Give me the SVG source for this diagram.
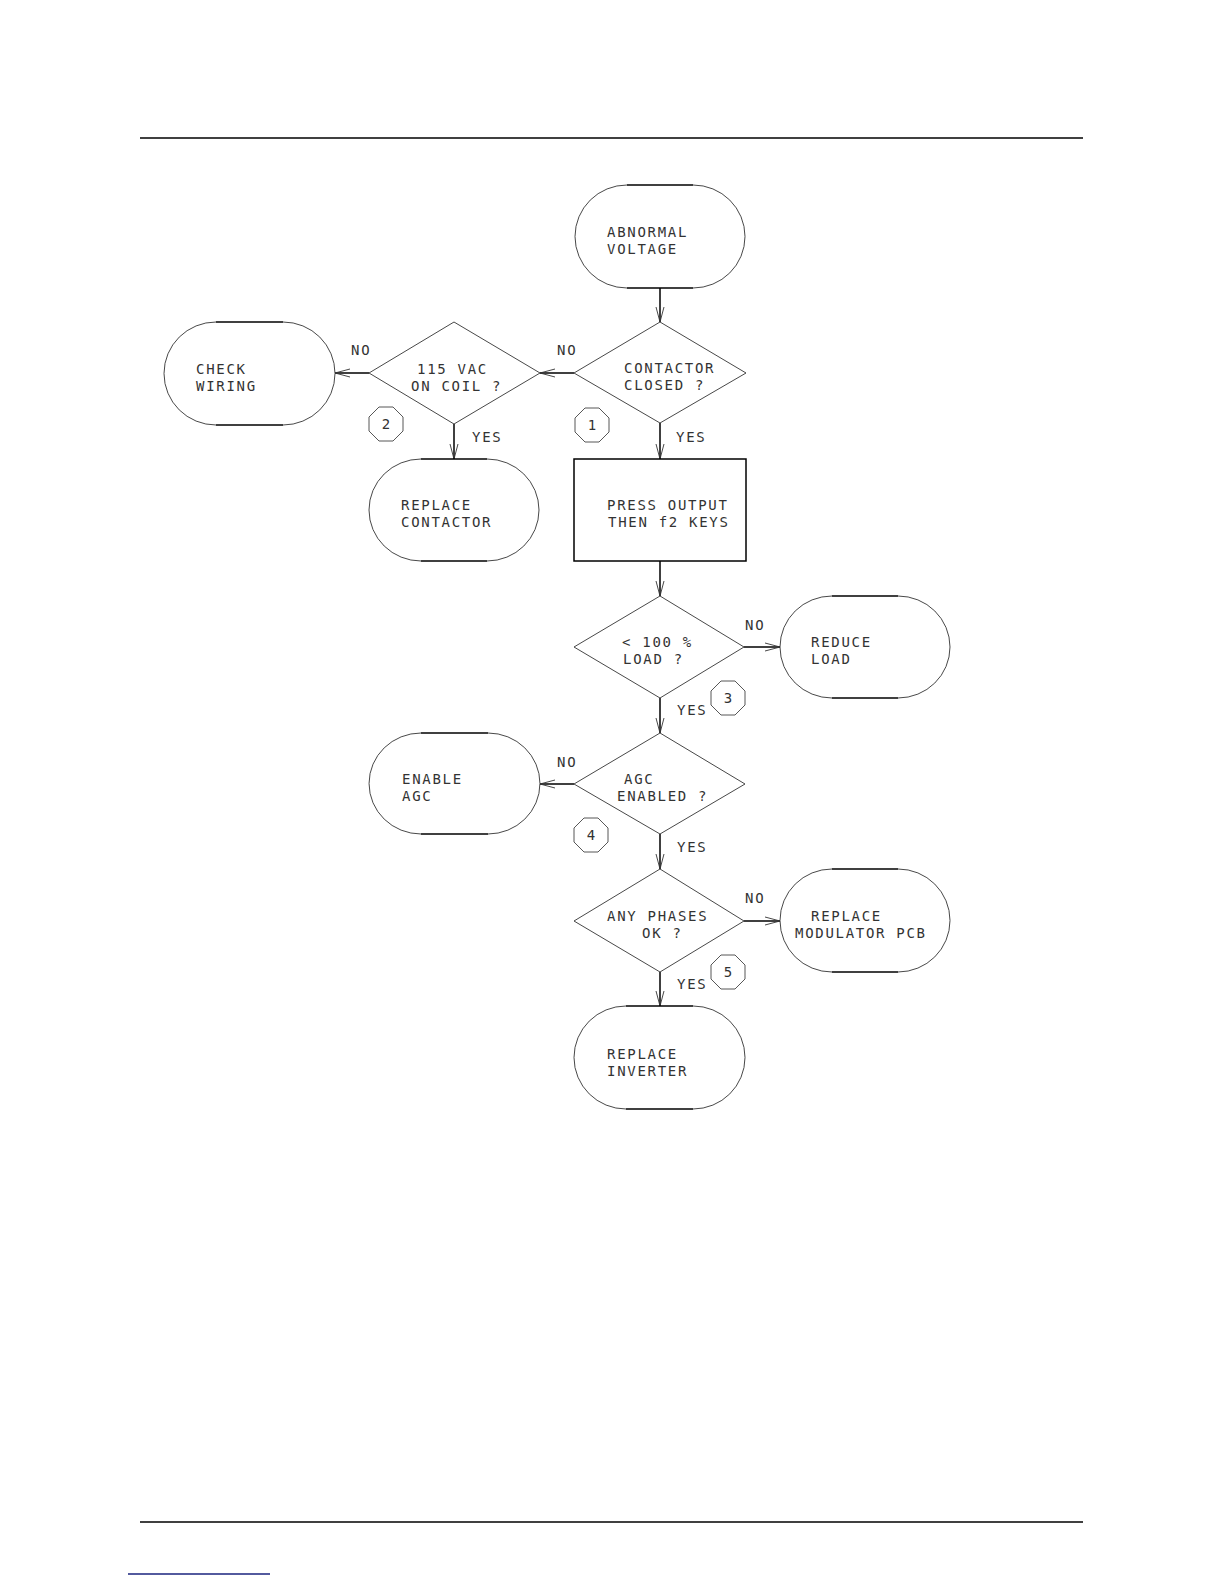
<svg xmlns="http://www.w3.org/2000/svg" width="1224" height="1584" viewBox="0 0 1224 1584">
<style>
.t{font-family:"DejaVu Sans Mono","Liberation Mono",monospace;font-size:14px;letter-spacing:1.7px;fill:#333}
.term .arc{fill:none;stroke:#333;stroke-width:0.9}
.term .flat{stroke:#000;stroke-width:1.6}
.dia{fill:none;stroke:#333;stroke-width:0.9}
.box{fill:none;stroke:#000;stroke-width:1.5}
.con{stroke:#000;stroke-width:1.5;fill:none;marker-end:url(#ah)}
.num{fill:none;stroke:#444;stroke-width:0.9}
.page{stroke:#000;stroke-width:1.5}
</style>
<defs>
<marker id="ah" markerUnits="userSpaceOnUse" viewBox="-16 -6 18 12" refX="0" refY="0" markerWidth="18" markerHeight="12" orient="auto">
<path d="M-15,-4 L0,0 L-15,4" fill="none" stroke="#333" stroke-width="0.9"/>
</marker>
<polygon id="oct" points="7,-17 17,-7 17,7 7,17 -7,17 -17,7 -17,-7 -7,-17" />
</defs>
<rect width="1224" height="1584" fill="#fff"/>
<line class="page" x1="140" y1="138" x2="1083" y2="138"/>
<line class="page" x1="140" y1="1522" x2="1083" y2="1522"/>
<line x1="128" y1="1574" x2="270" y2="1574" stroke="#1a237e" stroke-width="1.5"/>

<g id="connectors">
<line class="con" x1="660" y1="288" x2="660" y2="322"/>
<line class="con" x1="574" y1="373" x2="540" y2="373"/>
<line class="con" x1="369" y1="373" x2="335" y2="373"/>
<line class="con" x1="454" y1="424" x2="454" y2="459"/>
<line class="con" x1="660" y1="423" x2="660" y2="459"/>
<line class="con" x1="660" y1="561" x2="660" y2="596"/>
<line class="con" x1="744" y1="647" x2="780" y2="647"/>
<line class="con" x1="660" y1="698" x2="660" y2="733"/>
<line class="con" x1="574" y1="784" x2="540" y2="784"/>
<line class="con" x1="660" y1="834" x2="660" y2="869"/>
<line class="con" x1="744" y1="921" x2="780" y2="921"/>
<line class="con" x1="660" y1="972" x2="660" y2="1006"/>
<text class="t" x="557" y="355">NO</text>
<text class="t" x="351" y="355">NO</text>
<text class="t" x="472" y="442">YES</text>
<text class="t" x="676" y="442">YES</text>
<text class="t" x="745" y="630">NO</text>
<text class="t" x="677" y="715">YES</text>
<text class="t" x="557" y="767">NO</text>
<text class="t" x="677" y="852">YES</text>
<text class="t" x="745" y="903">NO</text>
<text class="t" x="677" y="989">YES</text>
</g>

<g id="n-abnormal" class="term">
<path class="arc" d="M627,185 A52,51.5 0 0 0 627,288 M693,185 A52,51.5 0 0 1 693,288"/>
<line class="flat" x1="627" y1="185" x2="693" y2="185"/><line class="flat" x1="627" y1="288" x2="693" y2="288"/>
<text class="t" x="607" y="237">ABNORMAL</text><text class="t" x="607" y="254">VOLTAGE</text>
</g>

<g id="n-contactor">
<polygon class="dia" points="660,322 746,373 660,423 574,373"/>
<text class="t" x="624" y="373">CONTACTOR</text><text class="t" x="624" y="390">CLOSED ?</text>
<g transform="translate(592,425)"><use href="#oct" class="num"/><text class="t" x="0" y="5" text-anchor="middle" style="letter-spacing:0">1</text></g>
</g>

<g id="n-115vac">
<polygon class="dia" points="454,322 540,373 454,424 369,373"/>
<text class="t" x="417" y="374">115 VAC</text><text class="t" x="411" y="391">ON COIL ?</text>
<g transform="translate(386,424)"><use href="#oct" class="num"/><text class="t" x="0" y="5" text-anchor="middle" style="letter-spacing:0">2</text></g>
</g>

<g id="n-checkwiring" class="term">
<path class="arc" d="M216,322 A52,51.5 0 0 0 216,425 M283,322 A52,51.5 0 0 1 283,425"/>
<line class="flat" x1="216" y1="322" x2="283" y2="322"/><line class="flat" x1="216" y1="425" x2="283" y2="425"/>
<text class="t" x="196" y="374">CHECK</text><text class="t" x="196" y="391">WIRING</text>
</g>

<g id="n-replacecontactor" class="term">
<path class="arc" d="M421,459 A52,51 0 0 0 421,561 M487,459 A52,51 0 0 1 487,561"/>
<line class="flat" x1="421" y1="459" x2="487" y2="459"/><line class="flat" x1="421" y1="561" x2="487" y2="561"/>
<text class="t" x="401" y="510">REPLACE</text><text class="t" x="401" y="527">CONTACTOR</text>
</g>

<g id="n-press">
<rect class="box" x="574" y="459" width="172" height="102"/>
<text class="t" x="607" y="510">PRESS OUTPUT</text><text class="t" x="608" y="527">THEN f2 KEYS</text>
</g>

<g id="n-load">
<polygon class="dia" points="660,596 744,647 660,698 574,647"/>
<text class="t" x="622" y="647">&lt; 100 %</text><text class="t" x="623" y="664">LOAD ?</text>
<g transform="translate(728,698)"><use href="#oct" class="num"/><text class="t" x="0" y="5" text-anchor="middle" style="letter-spacing:0">3</text></g>
</g>

<g id="n-reduceload" class="term">
<path class="arc" d="M832,596 A52,51 0 0 0 832,698 M898,596 A52,51 0 0 1 898,698"/>
<line class="flat" x1="832" y1="596" x2="898" y2="596"/><line class="flat" x1="832" y1="698" x2="898" y2="698"/>
<text class="t" x="811" y="647">REDUCE</text><text class="t" x="811" y="664">LOAD</text>
</g>

<g id="n-agc">
<polygon class="dia" points="660,733 745,784 660,834 574,784"/>
<text class="t" x="624" y="784">AGC</text><text class="t" x="617" y="801">ENABLED ?</text>
<g transform="translate(591,835)"><use href="#oct" class="num"/><text class="t" x="0" y="5" text-anchor="middle" style="letter-spacing:0">4</text></g>
</g>

<g id="n-enableagc" class="term">
<path class="arc" d="M421,733 A52,50.5 0 0 0 421,834 M488,733 A52,50.5 0 0 1 488,834"/>
<line class="flat" x1="421" y1="733" x2="488" y2="733"/><line class="flat" x1="421" y1="834" x2="488" y2="834"/>
<text class="t" x="402" y="784">ENABLE</text><text class="t" x="402" y="801">AGC</text>
</g>

<g id="n-phases">
<polygon class="dia" points="660,869 744,921 660,972 574,921"/>
<text class="t" x="607" y="921">ANY PHASES</text><text class="t" x="642" y="938">OK ?</text>
<g transform="translate(728,972)"><use href="#oct" class="num"/><text class="t" x="0" y="5" text-anchor="middle" style="letter-spacing:0">5</text></g>
</g>

<g id="n-modulator" class="term">
<path class="arc" d="M832,869 A52,51.5 0 0 0 832,972 M898,869 A52,51.5 0 0 1 898,972"/>
<line class="flat" x1="832" y1="869" x2="898" y2="869"/><line class="flat" x1="832" y1="972" x2="898" y2="972"/>
<text class="t" x="811" y="921">REPLACE</text><text class="t" x="795" y="938">MODULATOR PCB</text>
</g>

<g id="n-inverter" class="term">
<path class="arc" d="M626,1006 A52,51.5 0 0 0 626,1109 M693,1006 A52,51.5 0 0 1 693,1109"/>
<line class="flat" x1="626" y1="1006" x2="693" y2="1006"/><line class="flat" x1="626" y1="1109" x2="693" y2="1109"/>
<text class="t" x="607" y="1059">REPLACE</text><text class="t" x="607" y="1076">INVERTER</text>
</g>
</svg>
